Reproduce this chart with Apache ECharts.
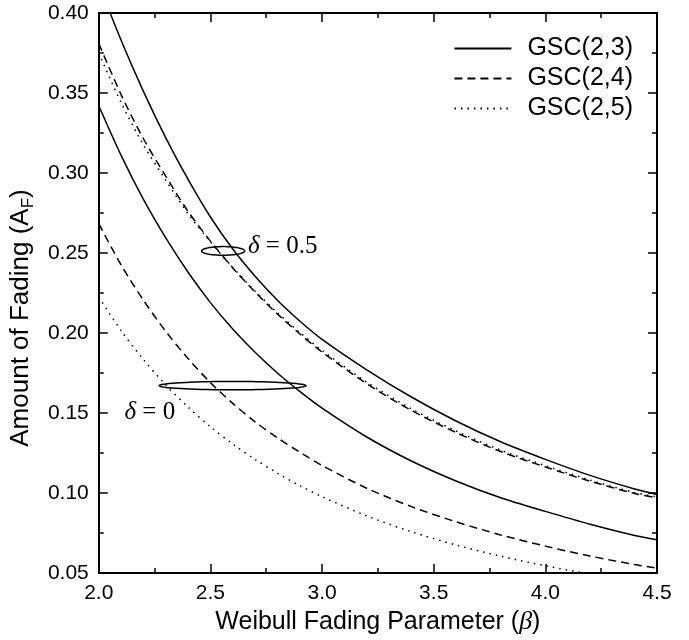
<!DOCTYPE html>
<html>
<head>
<meta charset="utf-8">
<script src="https://cdn.jsdelivr.net/npm/echarts@6/dist/echarts.min.js"></script>
<style>
  html, body { margin: 0; padding: 0; background: #fff; }
  #chart { width: 689px; height: 640px; }
</style>
</head>
<body>
<div id="chart"></div>
<script>
// beta grid (x) and amount of fading curves
const beta = [2.0, 2.1, 2.2, 2.3, 2.4, 2.5, 2.6, 2.7, 2.8, 2.9, 3.0, 3.2, 3.4, 3.6, 3.8, 4.0, 4.2, 4.4, 4.5]

// delta = 0.5
const gsc23_d05 = [0.418, 0.383, 0.351, 0.322, 0.296, 0.2725, 0.2525, 0.2355, 0.2205, 0.2075, 0.196, 0.177, 0.160, 0.145, 0.132, 0.121, 0.111, 0.1025, 0.099]
const gsc24_d05 = [0.381, 0.349, 0.3214, 0.298, 0.276, 0.2574, 0.2407, 0.2256, 0.2119, 0.1995, 0.1881, 0.1683, 0.1516, 0.1378, 0.1259, 0.1163, 0.1074, 0.0997, 0.0970]
const gsc25_d05 = [0.375, 0.344, 0.3175, 0.2955, 0.2745, 0.2570, 0.2410, 0.2262, 0.2127, 0.2004, 0.1891, 0.1693, 0.1526, 0.1388, 0.1268, 0.1171, 0.1081, 0.1003, 0.0976]

// delta = 0
const gsc23_d0 = [0.342, 0.311, 0.2835, 0.2595, 0.238, 0.219, 0.2025, 0.188, 0.175, 0.1635, 0.153, 0.135, 0.120, 0.1075, 0.097, 0.0885, 0.0805, 0.0735, 0.0708]
const gsc24_d0 = [0.2683, 0.2425, 0.2205, 0.201, 0.184, 0.169, 0.156, 0.1445, 0.1345, 0.1255, 0.1172, 0.1030, 0.0915, 0.0820, 0.0738, 0.0668, 0.0606, 0.0553, 0.0530]
const gsc25_d0 = [0.2225, 0.2015, 0.1834, 0.1675, 0.1537, 0.1414, 0.1306, 0.1210, 0.1124, 0.1046, 0.0977, 0.0857, 0.0758, 0.0675, 0.0605, 0.0545, 0.0494, 0.0449, 0.0430]

const legendNames = ['GSC(2,3)', 'GSC(2,4)', 'GSC(2,5)']

// ellipses marking the curve groups (center beta, center A, half width, half height)
const ellBeta = [2.557, 2.599]
const ellA = [0.2513, 0.1671]
const ellRx = [0.0965, 0.329]
const ellRy = [0.0027, 0.0026]

// annotation texts (left edge beta, middle A)
const noteBeta = [2.668, 2.115]
const noteA = [0.254, 0.1506]
const noteText = ['{d|δ} = 0.5', '{d|δ} = 0']

const pairs = (ys) => beta.map((b, i) => [b, ys[i]])

const chart = echarts.init(document.getElementById('chart'))

const axisLine = { lineStyle: { color: '#000', width: 2 } }
const axisTick = { inside: true, length: 9, lineStyle: { color: '#000', width: 1.5 } }
const minorTick = { show: true, splitNumber: 2, length: 5, lineStyle: { color: '#000', width: 1.5 } }
const sans = 'Liberation Sans, Arial, sans-serif'
const serif = 'Liberation Serif, serif'

function curve(name, ys, type) {
  return {
    name: name,
    type: 'line',
    data: pairs(ys),
    symbol: 'none',
    smooth: 0.3,
    silent: true,
    color: '#000',
    lineStyle: { color: '#000', width: 1.5, type: type }
  }
}

const option = {
  animation: false,
  grid: { left: 95, right: 32, top: 13, bottom: 67 },
  legend: {
    data: legendNames,
    orient: 'vertical',
    right: 56,
    top: 36,
    padding: 0,
    itemWidth: 57,
    itemHeight: 24,
    itemGap: 5,
    selectedMode: false,
    // hide the symbol drawn on the legend line
    itemStyle: { opacity: 0 },
    textStyle: { fontSize: 25, lineHeight: 24, fontFamily: sans, color: '#000', padding: [0, 0, 0, 11] }
  },
  xAxis: [
    {
      type: 'value', min: 2, max: 4.5, interval: 0.5,
      name: '{a|Weibull Fading Parameter (}{b|β}{a|)}',
      nameLocation: 'middle', nameGap: 29,
      nameTextStyle: {
        rich: {
          a: { fontSize: 25, fontFamily: sans, color: '#000' },
          b: { fontSize: 26, fontFamily: serif, fontStyle: 'italic', color: '#000' }
        }
      },
      axisLine: axisLine, axisTick: axisTick, minorTick: minorTick,
      splitLine: { show: false },
      axisLabel: { fontSize: 21, fontFamily: sans, color: '#000', margin: 10, formatter: v => v.toFixed(1) }
    },
    {
      type: 'value', min: 2, max: 4.5, interval: 0.5, position: 'top',
      axisLine: axisLine, axisTick: axisTick, minorTick: minorTick,
      splitLine: { show: false }, axisLabel: { show: false }
    }
  ],
  yAxis: [
    {
      type: 'value', min: 0.05, max: 0.40, interval: 0.05,
      name: '{a|Amount of Fading (A}{s|F}{a|)}',
      nameLocation: 'middle', nameGap: 58, nameRotate: 90,
      nameTextStyle: {
        // name sits a bit below the middle of the axis
        padding: [0, 50, 0, 0],
        rich: {
          a: { fontSize: 26, fontFamily: sans, color: '#000', lineHeight: 32 },
          s: { fontSize: 17, fontFamily: sans, color: '#000', lineHeight: 15, verticalAlign: 'bottom' }
        }
      },
      axisLine: axisLine, axisTick: axisTick, minorTick: minorTick,
      splitLine: { show: false },
      axisLabel: { fontSize: 21, fontFamily: sans, color: '#000', margin: 10, formatter: v => v.toFixed(2) }
    },
    {
      type: 'value', min: 0.05, max: 0.40, interval: 0.05, position: 'right',
      axisLine: axisLine, axisTick: axisTick, minorTick: minorTick,
      splitLine: { show: false }, axisLabel: { show: false }
    }
  ],
  series: [
    curve('GSC(2,3)', gsc23_d05, 'solid'),
    curve('GSC(2,4)', gsc24_d05, [8, 5]),
    curve('GSC(2,5)', gsc25_d05, [1.5, 5]),
    curve('GSC(2,3)', gsc23_d0, 'solid'),
    curve('GSC(2,4)', gsc24_d0, [8, 5]),
    curve('GSC(2,5)', gsc25_d0, [1.5, 5]),
    {
      // ellipses and delta notes
      type: 'custom',
      silent: true,
      clip: false,
      data: ellBeta.map((b, i) => [b, ellA[i], ellRx[i], ellRy[i], noteBeta[i], noteA[i], i]),
      renderItem: function (params, api) {
        const cx = api.value(0), cy = api.value(1)
        const rx = api.value(2), ry = api.value(3)
        const pts = []
        for (let k = 0; k < 72; k++) {
          const t = k / 72 * Math.PI * 2
          pts.push(api.coord([cx + rx * Math.cos(t), cy + ry * Math.sin(t)]))
        }
        const tp = api.coord([api.value(4), api.value(5)])
        return {
          type: 'group',
          children: [
            {
              type: 'polygon',
              shape: { points: pts },
              style: { fill: 'none', stroke: '#000', lineWidth: 1.5 }
            },
            {
              type: 'text',
              x: tp[0], y: tp[1],
              style: {
                text: noteText[api.value(6)],
                fontSize: 25,
                fontFamily: serif,
                fill: '#000',
                align: 'left',
                verticalAlign: 'middle',
                rich: {
                  d: { fontSize: 25, fontFamily: serif, fontStyle: 'italic' }
                }
              }
            }
          ]
        }
      }
    }
  ]
}

chart.setOption(option)
</script>
</body>
</html>
